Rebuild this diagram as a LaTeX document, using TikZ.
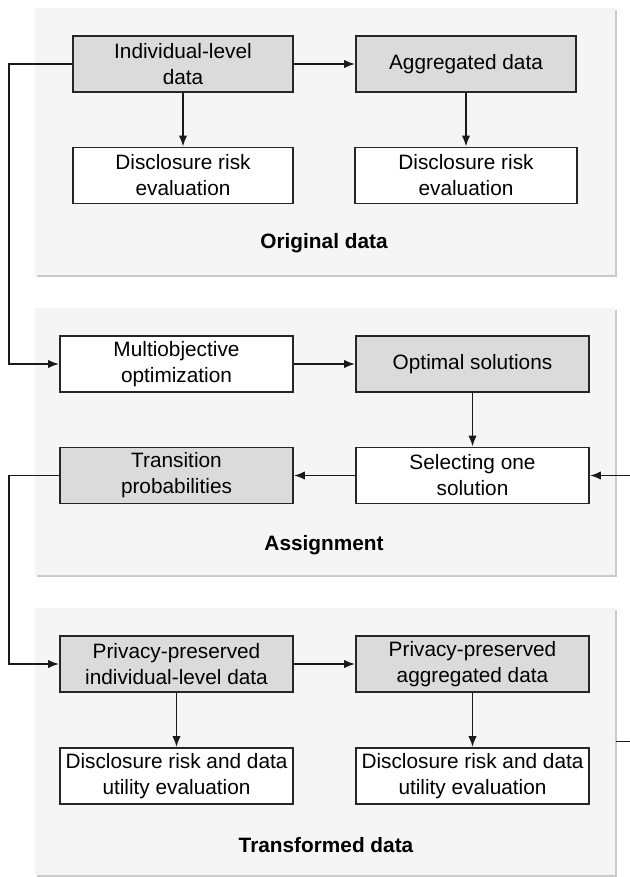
\documentclass[tikz,border=0pt]{standalone}
\usepackage{fontspec}
\setmainfont{Liberation Sans}
\usetikzlibrary{arrows.meta,shadows}

\begin{document}
\begin{tikzpicture}[x=0.5pt, y=-0.5pt, line width=0.9pt]

    \tikzset{panel/.style={%
      rectangle,%
      draw=none,%
      fill=black!4,%
      minimum width=290pt,%
      minimum height=133.5pt,%
      drop shadow={shadow xshift=1pt, shadow yshift=-1.2pt, fill=black!35, opacity=0.6}}%
    };

    \tikzset{block/.style={draw=black!85, rectangle, fill=white, inner sep=0pt,
      minimum width=116.5pt, minimum height=28pt, align=center,
      font=\fontsize{10.4}{13}\selectfont}};

    \tikzset{greyblock/.style={block, fill=black!14}};

    \tikzset{narrowblock/.style={minimum width=110pt}};

    \tikzset{paneltitle/.style={font=\fontsize{10.4}{13}\selectfont\bfseries}};

    \tikzset{arr/.style={draw=black!90, -{Latex[length=5.5pt,width=4.2pt]}}};

    \useasboundingbox (0,0) rectangle (629,877);

    %%%%%%%%%%
    % panels %
    %%%%%%%%%%
    \path (325, 141.5) node [panel] (orig) {};

    \path (325, 441.5) node [panel] (assign) {};

    \path (325, 741.5) node [panel] (transf) {};

    \path (324, 243) node [paneltitle] (origt) {Original data};

    \path (324, 545) node [paneltitle] (assignt) {Assignment};

    \path (326, 845) node [paneltitle] (transft) {Transformed data};

    %%%%%%%%%%%%%%%%%
    % original data %
    %%%%%%%%%%%%%%%%%
    \path (183, 64) node [greyblock, narrowblock] (indiv) {Individual-level\\data};

    \path (183, 175.5) node [block, narrowblock] (drl) {Disclosure risk\\evaluation};

    \path (466, 64) node [greyblock, narrowblock] (aggr) {Aggregated data};

    \path (466, 175.5) node [block, narrowblock, minimum width=111pt] (drr) {Disclosure risk\\evaluation};

    %%%%%%%%%%%%%%
    % assignment %
    %%%%%%%%%%%%%%
    \path (176.5, 364) node [block] (multi) {Multiobjective\\optimization};

    \path (472.5, 364) node [greyblock] (optim) {Optimal solutions};

    \path (472.5, 475.5) node [block] (select) {Selecting one\\solution};

    \path (176.5, 475.5) node [greyblock] (trans) {Transition\\probabilities};

    %%%%%%%%%%%%%%%%%%%%
    % transformed data %
    %%%%%%%%%%%%%%%%%%%%
    \path (176.5, 664) node [greyblock] (ppind) {Privacy-preserved\\individual-level data};

    \path (176.5, 776) node [block] (dul) {Disclosure risk and data\\utility evaluation};

    \path (472.5, 664) node [greyblock] (ppagg) {Privacy-preserved\\aggregated data};

    \path (472.5, 776) node [block] (dur) {Disclosure risk and data\\utility evaluation};

    \draw [arr] (indiv) -- (aggr);
    \draw [arr] (indiv) -- (drl);
    \draw [arr] (aggr) -- (drr);
    \draw [arr] (indiv.west) -- ++(-63, 0) |- (multi.west);
    \draw [arr] (multi) -- (optim);
    \draw [arr] (optim) -- (select);
    \draw [arr] (select) -- (trans);
    \draw [arr] (trans.west) -- ++(-50, 0) |- (ppind.west);
    \draw [arr] (ppind) -- (ppagg);
    \draw [arr] (ppind) -- (dul);
    \draw [arr] (ppagg) -- (dur);
    \draw [arr] (transf.east) -- ++(30, 0) |- (select.east);

  \end{tikzpicture}
\end{document}
